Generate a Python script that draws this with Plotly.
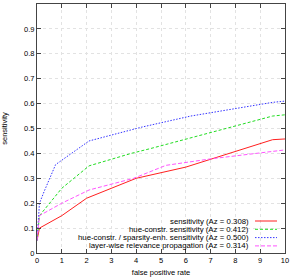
import plotly.graph_objects as go

names = [
    "sensitivity (Az = 0.308)",
    "hue-constr. sensitivity (Az = 0.412)",
    "hue-constr. / sparsity-enh. sensitivity (Az = 0.500)",
    "layer-wise relevance propagation (Az = 0.314)",
]
colors = ["#ff2020", "#22dd22", "#3535ff", "#ff55ff"]
dashes = ["solid", "3px,2px", "1.5px,1.5px", "4px,2px"]

red_x = [0, 0.1, 1, 2, 4, 6, 9.5, 10]
red_y = [0.05, 0.1, 0.15, 0.22, 0.3, 0.345, 0.455, 0.458]
green_x = [0, 0.1, 1, 2.1, 3.8, 4.6, 9.5, 10]
green_y = [0.05, 0.15, 0.26, 0.35, 0.4, 0.42, 0.55, 0.555]
blue_x = [0, 0.1, 0.3, 0.75, 2.1, 4.2, 6.2, 9.5, 10]
blue_y = [0.05, 0.2, 0.25, 0.355, 0.45, 0.505, 0.55, 0.605, 0.61]
lrp_x = [0, 0.1, 1, 2.1, 3.9, 5.2, 7, 10]
lrp_y = [0.05, 0.15, 0.2, 0.253, 0.3, 0.352, 0.378, 0.414]

xs = [red_x, green_x, blue_x, lrp_x]
ys = [red_y, green_y, blue_y, lrp_y]

x_ticks = list(range(0, 11))
y_ticks = [0, 0.1, 0.2, 0.3, 0.4, 0.5, 0.6, 0.7, 0.8, 0.9, 1]
y_tick_text = ["0", "0.1", "0.2", "0.3", "0.4", "0.5", "0.6", "0.7", "0.8", "0.9", "1"]

FONT = "Liberation Sans, Arial, sans-serif"

fig = go.Figure()
for x, y, n, c, d in zip(xs, ys, names, colors, dashes):
    fig.add_trace(go.Scatter(x=x, y=y, mode="lines", name=n,
                             line=dict(color=c, width=1, dash=d),
                             showlegend=False))

# manual gnuplot-style legend: right-aligned text, sample line on the right
W, H = 291, 277
ml, mr, mt, mb = 37, 6, 4, 24
pw, ph = W - ml - mr, H - mt - mb
def px2paper_x(px):
    return (px - ml) / pw
def py2paper_y(py):
    return 1 - (py - mt) / ph

row0, step = 221, 8.3
for i, (n, c, d) in enumerate(zip(names, colors, dashes)):
    yy = py2paper_y(row0 + i * step)
    fig.add_annotation(x=px2paper_x(251), y=yy, xref="paper", yref="paper",
                       text=n, showarrow=False, xanchor="right", yanchor="middle",
                       font=dict(family=FONT, size=7.8, color="#000"))
    fig.add_shape(type="line", xref="paper", yref="paper", layer="above",
                  x0=px2paper_x(255), x1=px2paper_x(277), y0=yy, y1=yy,
                  line=dict(color=c, width=1, dash=d))

axis_common = dict(
    showline=True, linecolor="#444", linewidth=1, mirror="ticks",
    ticks="inside", ticklen=4, tickcolor="#444", tickwidth=1,
    showgrid=True, gridcolor="#e2e2e2", griddash="dot", gridwidth=1,
    zeroline=False, automargin=False,
    tickfont=dict(family=FONT, size=7.5, color="#000"),
)
fig.update_xaxes(range=[0, 10], tickvals=x_ticks, ticktext=[str(t) for t in x_ticks],
                 title=dict(text="false positive rate", standoff=5,
                            font=dict(family=FONT, size=7.5, color="#000")),
                 **axis_common)
fig.update_yaxes(range=[0, 1], tickvals=y_ticks, ticktext=y_tick_text,
                 title=dict(text="sensitivity", standoff=15,
                            font=dict(family=FONT, size=7.5, color="#000")),
                 **axis_common)
fig.update_layout(width=W, height=H, margin=dict(l=ml, r=mr, t=mt, b=mb),
                  paper_bgcolor="white", plot_bgcolor="white")
fig.write_html("out.html", config={"displayModeBar": False},
               post_script="document.body.style.margin='0';document.body.style.overflow='hidden';")
